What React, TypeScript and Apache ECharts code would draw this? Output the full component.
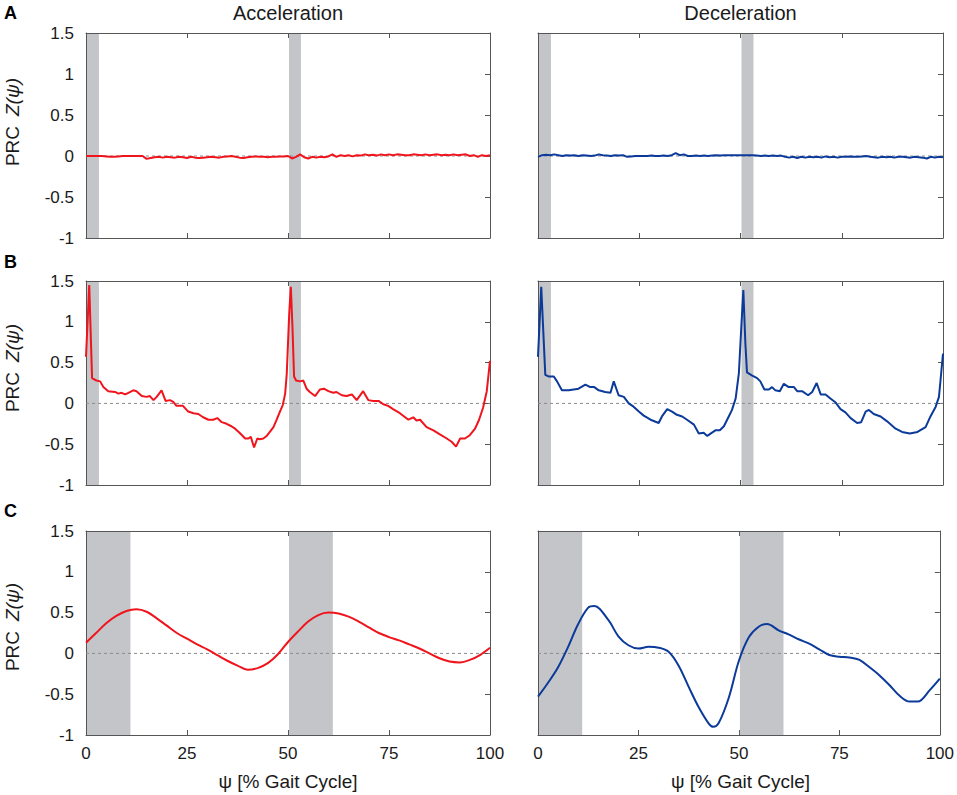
import React, { useEffect, useRef } from "react";
import * as echarts from "echarts";

// ---------- data ----------
const X_TICKS = [0, 25, 50, 75, 100];
const Y_MIN = -1;
const Y_MAX = 1.5;

const COLUMN_TITLES = ["Acceleration", "Deceleration"];
const PANEL_LETTERS = ["A", "B", "C"];
const Y_LABEL = "PRC";
const Y_LABEL_FN = "Z(ψ)";
const X_LABEL = "ψ [% Gait Cycle]";

// shaded stance bands (x start, x end) in % gait cycle
const BANDS_AB = [
  [0, 3.2],
  [50, 53.2],
];
const BANDS_C = [
  [0, 11],
  [50, 61.1],
];

// Row A: one value per % of gait cycle (0..100)
const A_ACC = [
  0, 0, 0, 0, 0, -0.005, -0.01, -0.01, -0.005, 0, 0, 0, 0, 0, 0, -0.035, -0.025, -0.015, -0.01, -0.02,
  -0.01, -0.015, -0.02, -0.01, -0.015, -0.025, -0.01, -0.02, -0.025, -0.02, -0.015, -0.01, -0.015, -0.02, -0.01,
  -0.005, 0, -0.01, -0.02, -0.025, -0.015, -0.01, -0.005, -0.01, -0.01, -0.015, -0.01, -0.01, -0.005, -0.005,
  0, -0.03, -0.01, 0.02, -0.015, -0.03, -0.01, -0.02, -0.01, -0.015, -0.005, 0.02, -0.01, 0.01, 0, 0.01,
  -0.005, 0.01, 0.005, 0.02, 0.01, 0.015, 0.005, 0.02, 0.01, 0.02, 0.01, 0.02, 0.015, 0.01, 0.01, 0.02,
  0.015, 0.01, 0.02, 0.01, 0.015, 0.02, 0.01, 0.015, 0.01, 0.02, 0.01, 0.015, 0.02, 0.0, 0.01, -0.01, 0.01,
  0.0, 0.01,
];
const A_DEC = [
  -0.01, 0.01, 0.015, 0.01, 0.02, 0.01, 0.0, 0.01, 0.005, 0.01, 0.0, 0.01, 0.005, 0.0, 0.005, 0.02, 0.01,
  0.005, 0.0, 0.01, 0.005, 0.01, -0.01, -0.005, 0.0, 0.0, 0.0, 0.0, 0.005, 0.0, 0.0, 0.005, 0.0, 0.01, 0.035,
  0.01, 0.02, 0.0, 0.0, 0.005, 0.0, 0.005, 0.0, 0.005, 0.01, 0.005, 0.01, 0.01, 0.01, 0.01, 0.01, 0.01, 0.01,
  0.01, 0.005, 0.0, 0.005, 0.0, 0.005, 0.0, 0.005, -0.01, -0.02, -0.01, -0.025, -0.01, -0.02, -0.01, -0.015,
  -0.01, -0.02, -0.005, -0.015, -0.01, -0.02, -0.01, -0.01, -0.005, -0.01, -0.01, -0.005, 0.0, -0.01, -0.015,
  -0.02, -0.01, -0.015, -0.01, -0.02, -0.01, -0.01, -0.015, -0.02, -0.01, -0.015, -0.02, -0.03, -0.01, -0.02,
  -0.01, -0.015,
];

// Row B
const B_ACC_X = [
  0, 0.8, 1.5, 2.6, 3.5, 4.3, 5.5, 7.2, 8, 8.8, 9.7, 10.5, 11.7, 12.5, 13.8, 15, 15.8, 16.7, 17.5, 18.7, 19.7,
  20.8, 21.6, 22.4, 24, 25.3, 26.6, 27.8, 29, 30.3, 31.5, 32.5, 33.6, 34.8, 36, 36.9, 38, 39.4, 40.2, 40.8, 41.6,
  42.4, 43, 43.9, 44.7, 45.5, 46.4, 47.2, 48, 48.7, 49.3, 49.7, 50.3, 50.7, 51.1, 51.5, 52, 53, 53.8, 54.6, 55.4,
  56.7, 57.9, 58.9, 60, 61.2, 62, 63.3, 64.5, 65.8, 67, 68.6, 69.9, 71.1, 72.4, 73.6, 74.8, 76, 77.7, 79.8, 81,
  81.8, 82.7, 84.3, 86, 87.6, 89.3, 90.5, 91.6, 92.6, 93.8, 95, 96.3, 97.3, 98.3, 99.2, 100,
];
const B_ACC_Y = [
  0.57, 1.45, 0.31, 0.28, 0.27, 0.2, 0.15, 0.14, 0.12, 0.13, 0.11, 0.13, 0.16, 0.15, 0.09, 0.08, 0.09, 0.04,
  0.08, 0.16, 0.03, 0.04, 0.02, -0.03, -0.03, -0.1, -0.12, -0.13, -0.17, -0.2, -0.2, -0.18, -0.23, -0.25, -0.28,
  -0.31, -0.36, -0.43, -0.43, -0.41, -0.54, -0.43, -0.44, -0.43, -0.4, -0.35, -0.29, -0.2, -0.1, -0.02, 0.12,
  0.37, 1.1, 1.43, 0.94, 0.33, 0.28, 0.27, 0.28, 0.18, 0.14, 0.09, 0.17, 0.18, 0.15, 0.13, 0.14, 0.1, 0.09,
  0.11, 0.04, 0.15, 0.04, 0.03, 0.03, -0.01, -0.03, -0.07, -0.12, -0.2, -0.17, -0.21, -0.2, -0.29, -0.33,
  -0.38, -0.43, -0.47, -0.53, -0.43, -0.43, -0.39, -0.31, -0.2, -0.05, 0.15, 0.52,
];
const B_DEC_X = [
  0, 0.8, 1.8, 2.6, 3.9, 4.7, 5.9, 7.6, 8.8, 10, 11.7, 12.9, 13.9, 15, 16.6, 17.9, 18.7, 19.9, 21.2, 22.4, 23.6,
  24.9, 26.1, 27.8, 29.8, 30.6, 31.9, 33.1, 34.3, 35.6, 36.8, 38.5, 39.7, 40.9, 41.8, 42.6, 43.8, 44.9, 45.9,
  47.1, 47.9, 48.8, 49.6, 50.2, 50.7, 51.2, 51.6, 52.9, 54.1, 54.9, 55.9, 57, 57.8, 58.6, 59.7, 60.7, 61.9,
  63.2, 64, 65.2, 66.7, 67.7, 68.8, 69.8, 71, 72.2, 73.5, 74.7, 75.9, 77.2, 78.8, 79.8, 80.9, 81.7, 82.9, 84.6,
  86.2, 88.3, 89.9, 91.8, 93.7, 95.7, 96.9, 98.2, 99, 99.4, 100,
];
const B_DEC_Y = [
  0.57, 1.43, 0.35, 0.33, 0.33, 0.27, 0.16, 0.16, 0.17, 0.18, 0.23, 0.2, 0.2, 0.16, 0.14, 0.13, 0.27, 0.1,
  0.08, 0.0, -0.04, -0.1, -0.15, -0.2, -0.24, -0.16, -0.07, -0.1, -0.14, -0.16, -0.2, -0.26, -0.37, -0.36,
  -0.4, -0.37, -0.33, -0.33, -0.28, -0.16, -0.08, 0.06, 0.37, 0.94, 1.39, 0.74, 0.38, 0.34, 0.31, 0.27, 0.17,
  0.17, 0.2, 0.16, 0.15, 0.24, 0.2, 0.2, 0.15, 0.15, 0.1, 0.14, 0.25, 0.11, 0.11, 0.06, 0.01, -0.07, -0.11,
  -0.18, -0.24, -0.23, -0.1, -0.08, -0.13, -0.16, -0.22, -0.31, -0.35, -0.37, -0.35, -0.29, -0.16, -0.04, 0.08,
  0.29, 0.61,
];

// Row C
const C_ACC_X = [
  0, 2.5, 5, 7.5, 10, 12.5, 15, 17.5, 20, 22.5, 25, 27.5, 30, 32.5, 35, 37.5, 40, 42.5, 45, 47.5, 50, 52.5, 55,
  57.5, 60, 62.5, 65, 67.5, 70, 72.5, 75, 77.5, 80, 82.5, 85, 87.5, 90, 92.5, 95, 97.5, 100,
];
const C_ACC_Y = [
  0.13, 0.25, 0.37, 0.46, 0.52, 0.54, 0.51, 0.43, 0.34, 0.25, 0.18, 0.11, 0.05, -0.02, -0.09, -0.15, -0.2,
  -0.18, -0.12, -0.01, 0.14, 0.27, 0.39, 0.47, 0.5, 0.49, 0.45, 0.39, 0.32, 0.25, 0.2, 0.16, 0.11, 0.06, 0.0,
  -0.06, -0.1, -0.11, -0.08, -0.02, 0.07,
];
const C_DEC_X = [
  0, 2.5, 5, 7.5, 10, 12.5, 14, 17.5, 20, 22.5, 25, 27.5, 30, 32.5, 35, 37.5, 40, 42.5, 43.6, 45, 47.5, 50,
  52.5, 55, 57, 60, 62.5, 65, 67.5, 70, 72.5, 75, 77.5, 80, 82.5, 85, 87.5, 90, 92.5, 94.5, 97.5, 100,
];
const C_DEC_Y = [
  -0.53, -0.36, -0.17, 0.08, 0.36, 0.56, 0.58, 0.41, 0.21, 0.1, 0.06, 0.08, 0.07, 0.02, -0.15, -0.41, -0.66,
  -0.86, -0.9, -0.85, -0.54, -0.09, 0.2, 0.33, 0.36, 0.28, 0.23, 0.17, 0.12, 0.05, -0.02, -0.04, -0.05, -0.08,
  -0.17, -0.27, -0.39, -0.52, -0.59, -0.59, -0.45, -0.31,
];

// ---------- rendering ----------
const FONT = "'Liberation Sans', Arial, Helvetica, sans-serif";
const RED = "#f0141c";
const BLUE = "#0b3a9a";
const BAND = "#c4c5c9";
const AXIS = "#555555";
const TEXT = "#1a1a1a";

const pairs = (xs: number[], ys: number[]) => ys.map((y, i) => [xs[i], y]);
const idxPairs = (ys: number[]) => ys.map((y, i) => [i, y]);

export default function App() {
  const ref = useRef<HTMLDivElement>(null);

  useEffect(() => {
    document.body.style.margin = "0";
    if (!ref.current) return;
    const chart = echarts.init(ref.current, undefined, { renderer: "svg" });

    const grids = [
      { left: 86, top: 33, width: 404, height: 205 },
      { left: 538, top: 33, width: 405, height: 205 },
      { left: 86, top: 281, width: 404, height: 204 },
      { left: 538, top: 281, width: 405, height: 204 },
      { left: 86, top: 531, width: 404, height: 204 },
      { left: 538, top: 531, width: 405, height: 204 },
    ];

    const panels = [
      { data: idxPairs(A_ACC), color: RED, bands: BANDS_AB, smooth: false },
      { data: idxPairs(A_DEC), color: BLUE, bands: BANDS_AB, smooth: false },
      { data: pairs(B_ACC_X, B_ACC_Y), color: RED, bands: BANDS_AB, smooth: false },
      { data: pairs(B_DEC_X, B_DEC_Y), color: BLUE, bands: BANDS_AB, smooth: false },
      { data: pairs(C_ACC_X, C_ACC_Y), color: RED, bands: BANDS_C, smooth: 0.35 },
      { data: pairs(C_DEC_X, C_DEC_Y), color: BLUE, bands: BANDS_C, smooth: 0.35 },
    ];

    const xAxes: any[] = [];
    const yAxes: any[] = [];
    const series: any[] = [];

    const tick = { show: true, inside: true, length: 5, lineStyle: { color: AXIS, width: 1 } };
    const line = { show: true, onZero: false, lineStyle: { color: AXIS, width: 1 } };

    grids.forEach((g, i) => {
      const row = Math.floor(i / 2);
      const col = i % 2;
      const xBase = {
        type: "value",
        gridIndex: i,
        min: X_TICKS[0],
        max: X_TICKS[X_TICKS.length - 1],
        interval: X_TICKS[1] - X_TICKS[0],
        axisLine: line,
        axisTick: tick,
        splitLine: { show: false },
      };
      xAxes.push({
        ...xBase,
        position: "bottom",
        axisLabel: { show: row === 2, color: TEXT, fontSize: 17, fontFamily: FONT, margin: 10 },
      });
      xAxes.push({ ...xBase, position: "top", axisLabel: { show: false } });
      const yBase = {
        type: "value",
        gridIndex: i,
        min: Y_MIN,
        max: Y_MAX,
        interval: 0.5,
        axisLine: line,
        axisTick: tick,
        splitLine: { show: false },
      };
      yAxes.push({
        ...yBase,
        position: "left",
        axisLabel: { show: col === 0, color: TEXT, fontSize: 17, fontFamily: FONT, margin: 12 },
      });
      yAxes.push({ ...yBase, position: "right", axisLabel: { show: false } });

      const p = panels[i];
      const decor = p.bands.map((b) => [b[0], b[1], 0]).concat([[X_TICKS[0], X_TICKS[X_TICKS.length - 1], 1]]);
      series.push({
        type: "custom",
        xAxisIndex: 2 * i,
        yAxisIndex: 2 * i,
        z: 1,
        silent: true,
        data: decor,
        encode: { x: [0, 1], y: 2 },
        renderItem: (params: any, api: any) => {
          const x0 = api.value(0);
          const x1 = api.value(1);
          const kind = api.value(2);
          const cs = params.coordSys;
          const p0 = api.coord([x0, 0]);
          const p1 = api.coord([x1, 0]);
          if (kind === 0) {
            return {
              type: "rect",
              shape: { x: p0[0] + 1, y: cs.y + 1, width: p1[0] - p0[0] - 1, height: cs.height - 1 },
              style: { fill: BAND },
            };
          }
          return {
            type: "line",
            shape: { x1: p0[0], y1: p0[1], x2: p1[0], y2: p1[1] },
            style: { stroke: "#8a8a8a", lineWidth: 1, lineDash: [3, 3] },
          };
        },
      });
      series.push({
        type: "line",
        xAxisIndex: 2 * i,
        yAxisIndex: 2 * i,
        z: 3,
        data: p.data,
        showSymbol: false,
        symbol: "none",
        smooth: p.smooth,
        lineStyle: { color: p.color, width: 2 },
        silent: true,
      });
    });

    const graphics: any[] = [];
    COLUMN_TITLES.forEach((t, c) => {
      const g = grids[c];
      graphics.push({
        type: "text",
        x: g.left + g.width / 2,
        y: 13,
        style: {
          text: t,
          fill: TEXT,
          font: `20px ${FONT}`,
          align: "center",
          verticalAlign: "middle",
          textAlign: "center",
          textVerticalAlign: "middle",
        },
      });
    });
    const letterY = [13, 262, 511];
    const labelY = [122, 368, 627];
    PANEL_LETTERS.forEach((L, r) => {
      graphics.push({
        type: "text",
        x: 4,
        y: letterY[r],
        style: {
          text: L,
          fill: "#000",
          font: `bold 18px ${FONT}`,
          align: "left",
          verticalAlign: "middle",
          textAlign: "left",
          textVerticalAlign: "middle",
        },
      });
      graphics.push({
        type: "text",
        x: 12,
        y: labelY[r],
        rotation: Math.PI / 2,
        style: {
          text: `{n|${Y_LABEL}}{z|${Y_LABEL_FN}}`,
          fill: TEXT,
          align: "center",
          verticalAlign: "middle",
          textAlign: "center",
          textVerticalAlign: "middle",
          rich: {
            n: { fontSize: 19, fontFamily: FONT, fill: TEXT, color: TEXT },
            z: { fontSize: 19, fontFamily: FONT, fontStyle: "italic", fill: TEXT, color: TEXT, padding: [0, 0, 0, 10] },
          },
        },
      });
    });
    [4, 5].forEach((gi) => {
      const g = grids[gi];
      graphics.push({
        type: "text",
        x: g.left + g.width / 2,
        y: 781,
        style: {
          text: X_LABEL,
          fill: TEXT,
          font: `19px ${FONT}`,
          align: "center",
          verticalAlign: "middle",
          textAlign: "center",
          textVerticalAlign: "middle",
        },
      });
    });

    chart.setOption({
      animation: false,
      backgroundColor: "#ffffff",
      grid: grids.map((g) => ({ ...g, containLabel: false })),
      xAxis: xAxes,
      yAxis: yAxes,
      series,
      graphic: graphics,
    });

    return () => chart.dispose();
  }, []);

  return <div ref={ref} style={{ width: 957, height: 795 }} />;
}
